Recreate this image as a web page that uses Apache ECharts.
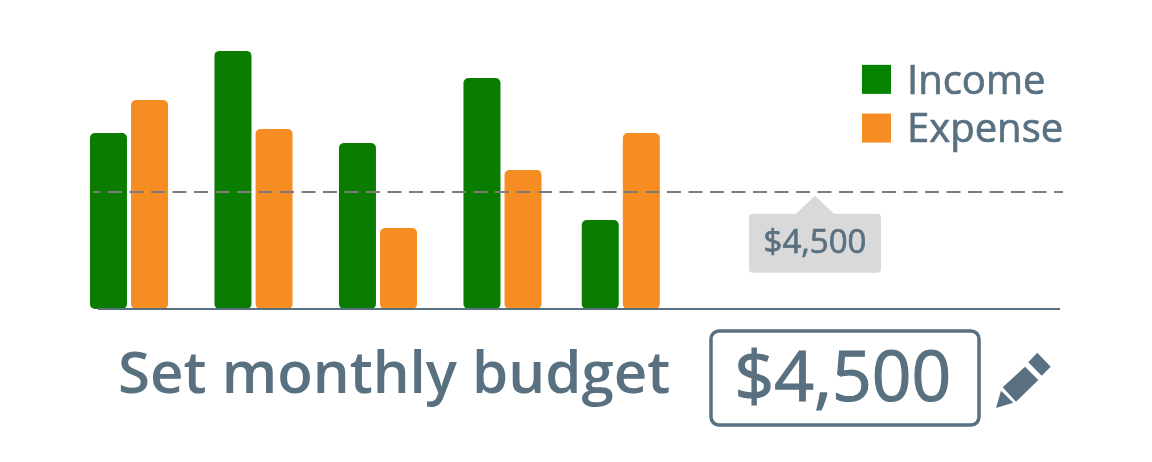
<!DOCTYPE html>
<html><head><meta charset="utf-8">
<style>html,body{margin:0;padding:0;background:#fff}#c{width:1152px;height:462px}</style>
<script src="https://cdn.jsdelivr.net/npm/echarts@6/dist/echarts.min.js"></script>
</head><body><div id="c"></div>
<script>
const groupPositions = [1, 2, 3, 4, 4.95];
const income = [6730, 9870, 6350, 8830, 3400];
const expense = [7990, 6880, 3100, 5320, 6730];
const budget = 4500;
const budgetLabel = '$4,500';
const heading = 'Set monthly budget';

const INK = '#587080', GREEN = '#0a7d00', ORANGE = '#f58d23', FONT = '"Open Sans", sans-serif';
const pairs = v => v.map((y, i) => [groupPositions[i], y]);
const chart = echarts.init(document.getElementById('c'), null, {renderer: 'canvas'});
chart.setOption({
  animation: false,
  backgroundColor: '#fff',
  grid: {left: 93, right: 89, top: 47.5, bottom: 153, containLabel: false},
  legend: {
    left: 857, top: 57, orient: 'vertical', align: 'left', icon: 'rect',
    itemWidth: 29, itemHeight: 29, itemGap: 8,
    formatter: '{t|{name}}',
    textStyle: {rich: {t: {color: INK, fontFamily: FONT, fontSize: 40, fontWeight: 400,
      textBorderColor: INK, textBorderWidth: 0.7, padding: [0, 0, 0, 11],
      height: 40, lineHeight: 46, verticalAlign: 'bottom'}}},
    data: [{name: 'Income', itemStyle: {color: '#048200'}}, {name: 'Expense', itemStyle: {color: ORANGE}}]
  },
  xAxis: {type: 'value', min: 0.7108, max: 8.502, splitLine: {show: false},
    axisTick: {show: false}, axisLabel: {show: false}, axisLine: {show: false}},
  yAxis: {type: 'value', min: 0, max: 10000, show: false, splitLine: {show: false}},
  series: [
    {name: 'Income', type: 'bar', data: pairs(income), barWidth: 37, barGap: '11%', clip: false,
     itemStyle: {color: GREEN, borderRadius: 5}, z: 2},
    {name: 'Expense', type: 'bar', data: pairs(expense), barWidth: 37, barGap: '11%', clip: false,
     itemStyle: {color: ORANGE, borderRadius: 5}, z: 2},
    {name: 'Budget', type: 'line', data: [], z: 4,
     markLine: {silent: true, symbol: 'none', label: {show: false}, z: 3,
       data: [
         [{coord: [0.7108, budget], lineStyle: {color: '#7d7d7d', width: 2, type: [14, 7.5], dashOffset: 6.5}}, {coord: [8.502, budget]}],
         [{coord: [0.751, 0], lineStyle: {color: INK, width: 2, type: 'solid'}}, {coord: [8.478, 0]}]
       ]},
     markPoint: {silent: true, z: 4, data: [{
       coord: [6.51, budget],
       symbol: 'path://M66 0L85 18H128Q132 18 132 22V73Q132 77 128 77H4Q0 77 0 73V22Q0 18 4 18H47Z',
       symbolSize: [132, 77], symbolOffset: [0, 43],
       itemStyle: {color: '#d9d9d9'},
       label: {show: true, formatter: budgetLabel, position: 'inside', offset: [0, 9],
         color: INK, fontFamily: FONT, fontSize: 33, fontWeight: 400,
         textBorderColor: INK, textBorderWidth: 0.7}
     }]}}
  ],
  graphic: [
    {type: 'text', left: 118, top: 347, style: {text: heading, fill: INK, font: '600 58.2px ' + FONT}},
    {type: 'rect', shape: {x: 711, y: 331, width: 268, height: 94, r: 8},
     style: {fill: 'none', stroke: INK, lineWidth: 3.5}},
    {type: 'text', left: 734, top: 346, style: {text: budgetLabel, fill: INK, font: '400 69.5px ' + FONT, stroke: INK, lineWidth: 1.2}},
    {type: 'polygon', shape: {points: [[1037.3,352.7],[1050.7,366.7],[1041.7,375.7],[1028.3,362.3]]}, style: {fill: INK}},
    {type: 'polygon', shape: {points: [[1025,366.7],[1038.3,380],[1016,401.7],[1002.7,387.3]]}, style: {fill: INK}},
    {type: 'polygon', shape: {points: [[1001,390.7],[1013.3,402.7],[996,408]]}, style: {fill: INK}}
  ]
});
</script></body></html>
